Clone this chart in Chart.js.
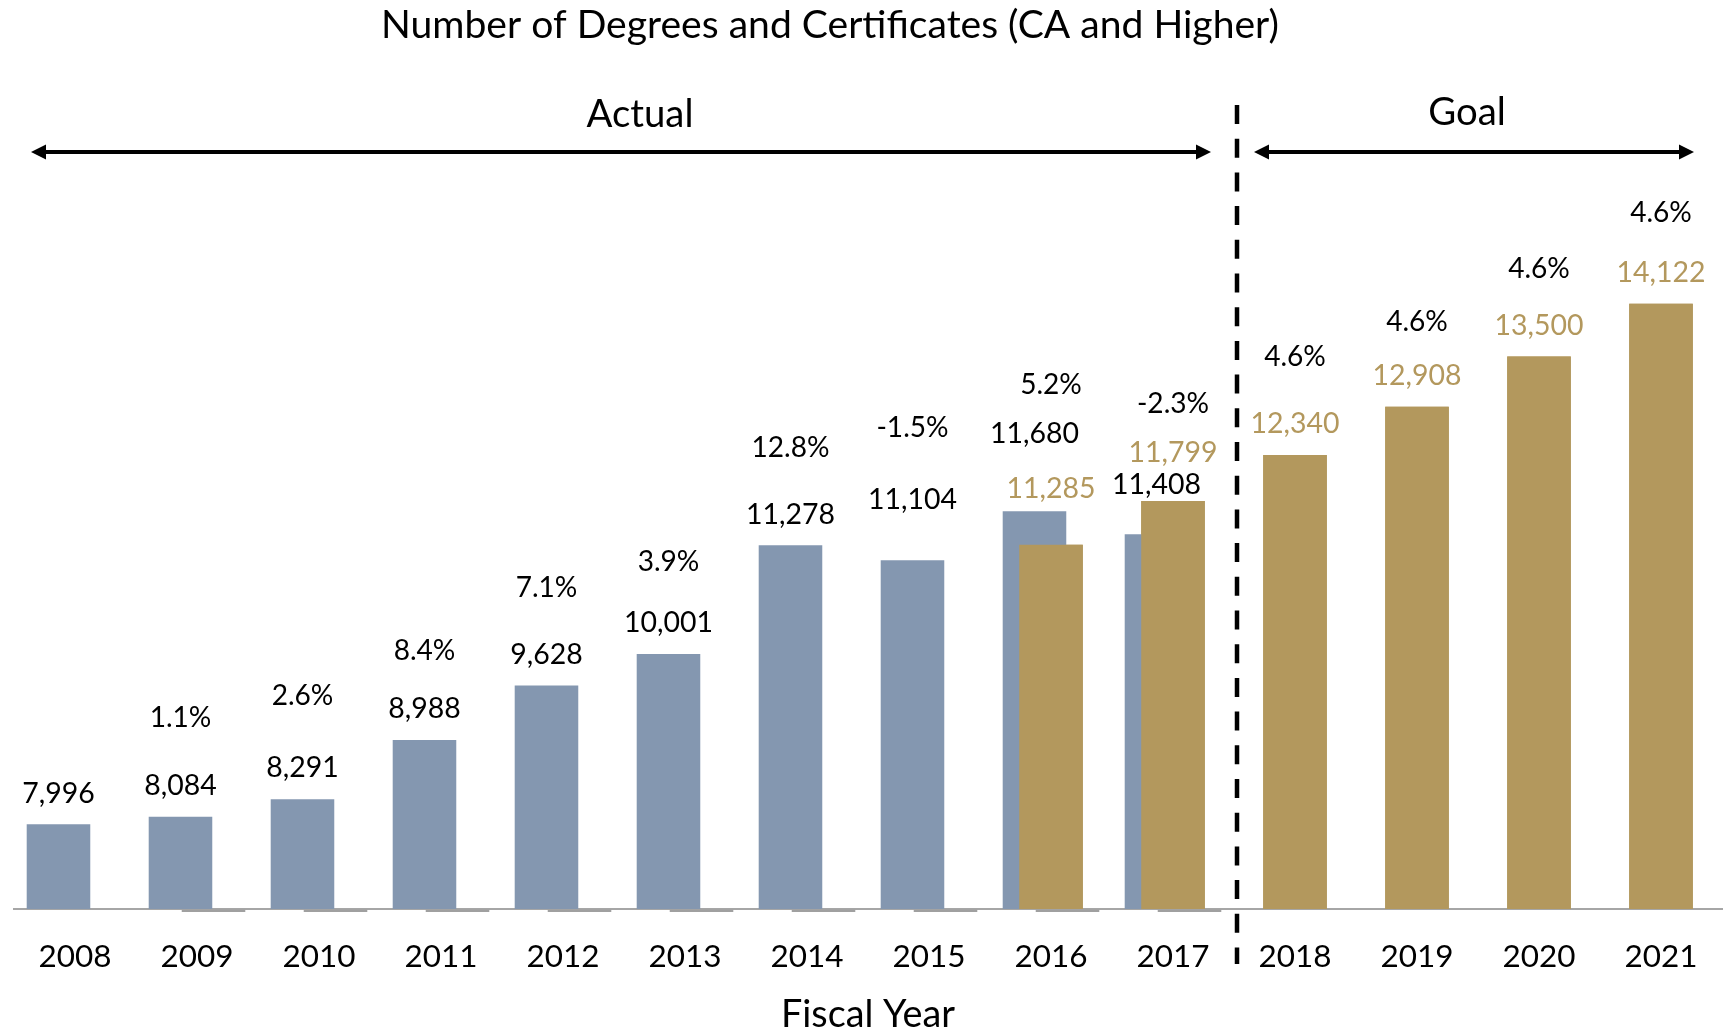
<!DOCTYPE html>
<html>
<head>
<meta charset="utf-8">
<script src="https://cdn.jsdelivr.net/npm/chart.js@4.4.0/dist/chart.umd.min.js"></script>
<style>
  html, body { margin: 0; padding: 0; background: #ffffff; }
  canvas { display: block; }
</style>
</head>
<body>
<canvas id="c" width="1730" height="1031"></canvas>
<script>
// ---------------- DATA ----------------
const years = ['2008','2009','2010','2011','2012','2013','2014','2015','2016','2017','2018','2019','2020','2021'];
const actualDegrees = [7996, 8084, 8291, 8988, 9628, 10001, 11278, 11104, 11680, 11408, null, null, null, null];
const goalDegrees   = [null, null, null, null, null, null, null, null, 11285, 11799, 12340, 12908, 13500, 14122];
const actualGrowthPct = [null, 1.1, 2.6, 8.4, 7.1, 3.9, 12.8, -1.5, 5.2, -2.3, null, null, null, null];
const goalGrowthPct   = [null, null, null, null, null, null, null, null, null, null, 4.6, 4.6, 4.6, 4.6];
const yAxisMin = 7000;
const yAxisMax = 16000;
const chartTitle = 'Number of Degrees and Certificates (CA and Higher)';
const actualLabel = 'Actual';
const goalLabel = 'Goal';
const xAxisTitle = 'Fiscal Year';

// ---------------- STYLE ----------------
const BLUE = '#8497B0';
const GOLD = '#B3985D';
const AXIS_GRAY = '#A6A6A6';
const DASH_GRAY = '#A0A0A0';
const FONT = 'Lato';
// label placement tweaks (px), mirroring the hand-placed labels of the original
const LABEL_OFFSET = 31;
const actualLabelLift = [0, 0, 0, 0, 0, 0, 0, 29, 46, 18, 0, 0, 0, 0];
const goalLabelLift   = [0, 0, 0, 0, 0, 0, 0, 0, 25, 17, 0, 0, 0, 0];
const pctLabelGap     = [0, 68, 72, 58, 67, 61, 66, 72, 49, 49, 67, 54, 57, 60];

function fitSize(text, targetWidth) {
  const c = document.createElement('canvas').getContext('2d');
  c.font = '100px ' + FONT;
  return 100 * targetWidth / c.measureText(text).width;
}
const tickSize  = fitSize('2008', 73);
const valueSize = fitSize('11,680', 89);
const pctSize   = fitSize('12.8%', 78);
const titleSize = fitSize(chartTitle, 898);
const periodSize = fitSize(actualLabel, 107);
const xTitleSize = fitSize(xAxisTitle, 174);

const fmt = v => v.toLocaleString('en-US');
const fmtPct = v => v.toFixed(1) + '%';

function arrow(ctx, x1, x2, y) {
  const head = 15, half = 7.5;
  ctx.save();
  ctx.strokeStyle = '#000';
  ctx.fillStyle = '#000';
  ctx.lineWidth = 4;
  ctx.beginPath();
  ctx.moveTo(x1 + head - 2, y);
  ctx.lineTo(x2 - head + 2, y);
  ctx.stroke();
  ctx.beginPath();
  ctx.moveTo(x1, y); ctx.lineTo(x1 + head, y - half); ctx.lineTo(x1 + head, y + half); ctx.closePath();
  ctx.fill();
  ctx.beginPath();
  ctx.moveTo(x2, y); ctx.lineTo(x2 - head, y - half); ctx.lineTo(x2 - head, y + half); ctx.closePath();
  ctx.fill();
  ctx.restore();
}

const annotations = {
  id: 'annotations',
  afterDatasetsDraw(chart) {
    const ctx = chart.ctx;
    const area = chart.chartArea;
    const metaA = chart.getDatasetMeta(0);
    const metaG = chart.getDatasetMeta(1);
    const metaP = chart.getDatasetMeta(2);

    // goal bars drawn in front of actual bars (clipped to the plot area)
    ctx.save();
    ctx.beginPath();
    ctx.rect(area.left, area.top, area.right - area.left, area.bottom - area.top);
    ctx.clip();
    metaG.controller.draw();
    ctx.restore();

    // small growth-series marks under the axis line
    ctx.save();
    ctx.fillStyle = DASH_GRAY;
    actualGrowthPct.forEach((v, i) => {
      if (v === null) return;
      const el = metaP.data[i];
      ctx.fillRect(el.x - el.width / 2, area.bottom + 0.5, el.width, 2.5);
    });
    ctx.restore();

    // value and percentage labels
    ctx.save();
    ctx.textAlign = 'center';
    ctx.textBaseline = 'middle';
    years.forEach((yr, i) => {
      const a = actualDegrees[i] !== null ? metaA.data[i] : null;
      const g = goalDegrees[i] !== null ? metaG.data[i] : null;
      const aY = a ? a.y - LABEL_OFFSET - actualLabelLift[i] : Infinity;
      const gY = g ? g.y - LABEL_OFFSET - goalLabelLift[i] : Infinity;
      ctx.font = valueSize.toFixed(2) + 'px ' + FONT;
      if (a) { ctx.fillStyle = '#000'; ctx.fillText(fmt(actualDegrees[i]), a.x, aY); }
      if (g) { ctx.fillStyle = GOLD; ctx.fillText(fmt(goalDegrees[i]), g.x, gY); }
      const pct = actualGrowthPct[i] !== null ? actualGrowthPct[i] : goalGrowthPct[i];
      if (pct !== null) {
        ctx.font = pctSize.toFixed(2) + 'px ' + FONT;
        ctx.fillStyle = '#000';
        ctx.fillText(fmtPct(pct), g ? g.x : a.x, Math.min(aY, gY) - pctLabelGap[i]);
      }
    });
    ctx.restore();
  },
  afterDraw(chart) {
    const ctx = chart.ctx;
    const area = chart.chartArea;
    const xs = chart.scales.x;
    const divider = (xs.getPixelForValue(9) + xs.getPixelForValue(10)) / 2 + 3;

    ctx.save();
    ctx.fillStyle = '#000';
    ctx.textAlign = 'center';
    ctx.textBaseline = 'middle';
    ctx.font = titleSize.toFixed(2) + 'px ' + FONT;
    ctx.fillText(chartTitle, 830, 25);
    ctx.font = periodSize.toFixed(2) + 'px ' + FONT;
    ctx.fillText(actualLabel, 640, 115);
    ctx.fillText(goalLabel, 1467, 113);
    ctx.restore();

    arrow(ctx, area.left + 17, divider - 26, 152);
    arrow(ctx, divider + 17, area.right - 28, 152);

    ctx.save();
    ctx.strokeStyle = '#000';
    ctx.lineWidth = 4.5;
    ctx.setLineDash([19, 14.7]);
    ctx.beginPath();
    ctx.moveTo(divider, 105);
    ctx.lineTo(divider, 964);
    ctx.stroke();
    ctx.restore();
  }
};

new Chart(document.getElementById('c'), {
  type: 'bar',
  data: {
    labels: years,
    datasets: [
      { label: 'Actual', data: actualDegrees, backgroundColor: BLUE, yAxisID: 'y' },
      { label: 'Goal', data: goalDegrees, backgroundColor: GOLD, yAxisID: 'y' },
      { label: 'Growth', data: actualGrowthPct, backgroundColor: 'rgba(0,0,0,0)', yAxisID: 'yPct' }
    ]
  },
  options: {
    responsive: false,
    animation: false,
    devicePixelRatio: 1,
    categoryPercentage: 0.406,
    barPercentage: 3.85,
    layout: { padding: { left: 14, right: 8, top: 144, bottom: 0 } },
    plugins: {
      legend: { display: false },
      tooltip: { enabled: false },
      title: { display: false }
    },
    scales: {
      x: {
        grid: { display: false, drawTicks: false },
        border: { display: true, color: AXIS_GRAY, width: 2 },
        ticks: { color: '#000', font: { family: FONT, size: tickSize }, padding: 29, maxRotation: 0, autoSkip: false },
        title: { display: true, text: xAxisTitle, color: '#000', font: { family: FONT, size: xTitleSize, lineHeight: 1 }, padding: { top: 0, bottom: -3 } },
        afterFit: s => { s.height = 122; }
      },
      y: { display: false, min: yAxisMin, max: yAxisMax },
      yPct: { display: false, min: 0, max: 100 }
    }
  },
  plugins: [annotations]
});
</script>
</body>
</html>
